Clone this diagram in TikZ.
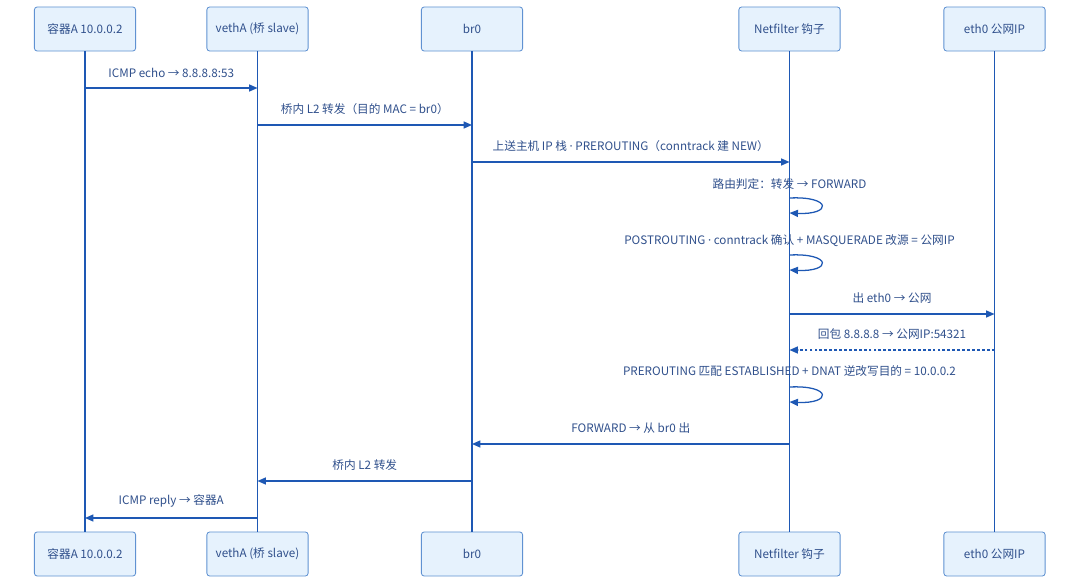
\documentclass[tikz,border=0pt]{standalone}
\usepackage{fontspec}
\setmainfont{Noto Sans CJK SC}
\newfontfamily\dotfont{Noto Sans}
\newcommand{\mdot}{{\dotfont ·}}
\usetikzlibrary{arrows.meta,positioning}
\definecolor{lanefill}{RGB}{230,242,253}
\definecolor{lanedraw}{RGB}{96,146,210}
\definecolor{msgline}{RGB}{30,88,180}
\definecolor{msgtext}{RGB}{48,80,140}
\tikzset{>={Triangle[length=6pt,width=5pt]},x=0.025cm,y=-0.025cm}
\tikzset{actor/.style={draw=lanedraw,fill=lanefill,rounded corners=2pt,line width=0.6pt,
        minimum width=2.53cm,minimum height=1.1cm,text=msgtext,font=\fontsize{8.3}{10}\selectfont}}
\tikzset{msg/.style={->,draw=msgline,line width=0.9pt}}
\tikzset{lbl/.style={text=msgtext,font=\fontsize{8.3}{10}\selectfont,inner sep=0pt}}

\begin{document}
\begin{tikzpicture}
    \useasboundingbox[fill=white] (0,0) rectangle (1080,584);
    % top and bottom boxes
    \node[actor] (ca)  at (85,29)    {容器A 10.0.0.2};
    \node[actor] (va)  at (257.5,29) {vethA (桥 slave)};
    \node[actor] (br)  at (472,29)   {br0};
    \node[actor] (nf)  at (789.5,29) {Netfilter 钩子};
    \node[actor] (eth) at (994.5,29) {eth0 公网IP};
    \node[actor] (ca2)  at (85,554)    {容器A 10.0.0.2};
    \node[actor] (va2)  at (257.5,554) {vethA (桥 slave)};
    \node[actor] (br2)  at (472,554)   {br0};
    \node[actor] (nf2)  at (789.5,554) {Netfilter 钩子};
    \node[actor] (eth2) at (994.5,554) {eth0 公网IP};
    % lifelines
    \path[draw=msgline,line width=0.9pt]
            (ca)  edge (ca2)
            (va)  edge (va2)
            (br)  edge (br2)
            (nf)  edge (nf2)
            (eth) edge (eth2);
    % messages
    \draw[msg] (ca |- 0,88) -- node[lbl,above=7pt] {ICMP echo → 8.8.8.8:53} (va |- 0,88);
    \draw[msg] (va |- 0,125) -- node[lbl,above=7pt] {桥内 L2 转发（目的 MAC = br0）} (br |- 0,125);
    \draw[msg] (br |- 0,162) -- node[lbl,above=7pt] {上送主机 IP 栈 \mdot{} PREROUTING（conntrack 建 NEW）} (nf |- 0,162);
    \node[lbl] (l4) at (nf |- 0,184) {路由判定：转发 → FORWARD};
    \draw[msg] (nf |- 0,198) .. controls (832,196) and (832,215) .. (nf |- 0,213);
    \node[lbl] (l5) at (nf |- 0,241) {POSTROUTING \mdot{} conntrack 确认 + MASQUERADE 改源 = 公网IP};
    \draw[msg] (nf |- 0,255) .. controls (832,253) and (832,272) .. (nf |- 0,270);
    \draw[msg] (nf |- 0,314) -- node[lbl,above=7pt] {出 eth0 → 公网} (eth |- 0,314);
    \draw[msg,dash pattern=on 2pt off 1.5pt] (eth |- 0,350) -- node[lbl,above=7pt] {回包 8.8.8.8 → 公网IP:54321} (nf |- 0,350);
    \node[lbl] (l8) at (nf |- 0,371) {PREROUTING 匹配 ESTABLISHED + DNAT 逆改写目的 = 10.0.0.2};
    \draw[msg] (nf |- 0,387) .. controls (832,385) and (832,404) .. (nf |- 0,402);
    \draw[msg] (nf |- 0,444) -- node[lbl,above=7pt] {FORWARD → 从 br0 出} (br |- 0,444);
    \draw[msg] (br |- 0,481) -- node[lbl,above=7pt] {桥内 L2 转发} (va |- 0,481);
    \draw[msg] (va |- 0,518) -- node[lbl,above=7pt] {ICMP reply → 容器A} (ca |- 0,518);
\end{tikzpicture}
\end{document}
